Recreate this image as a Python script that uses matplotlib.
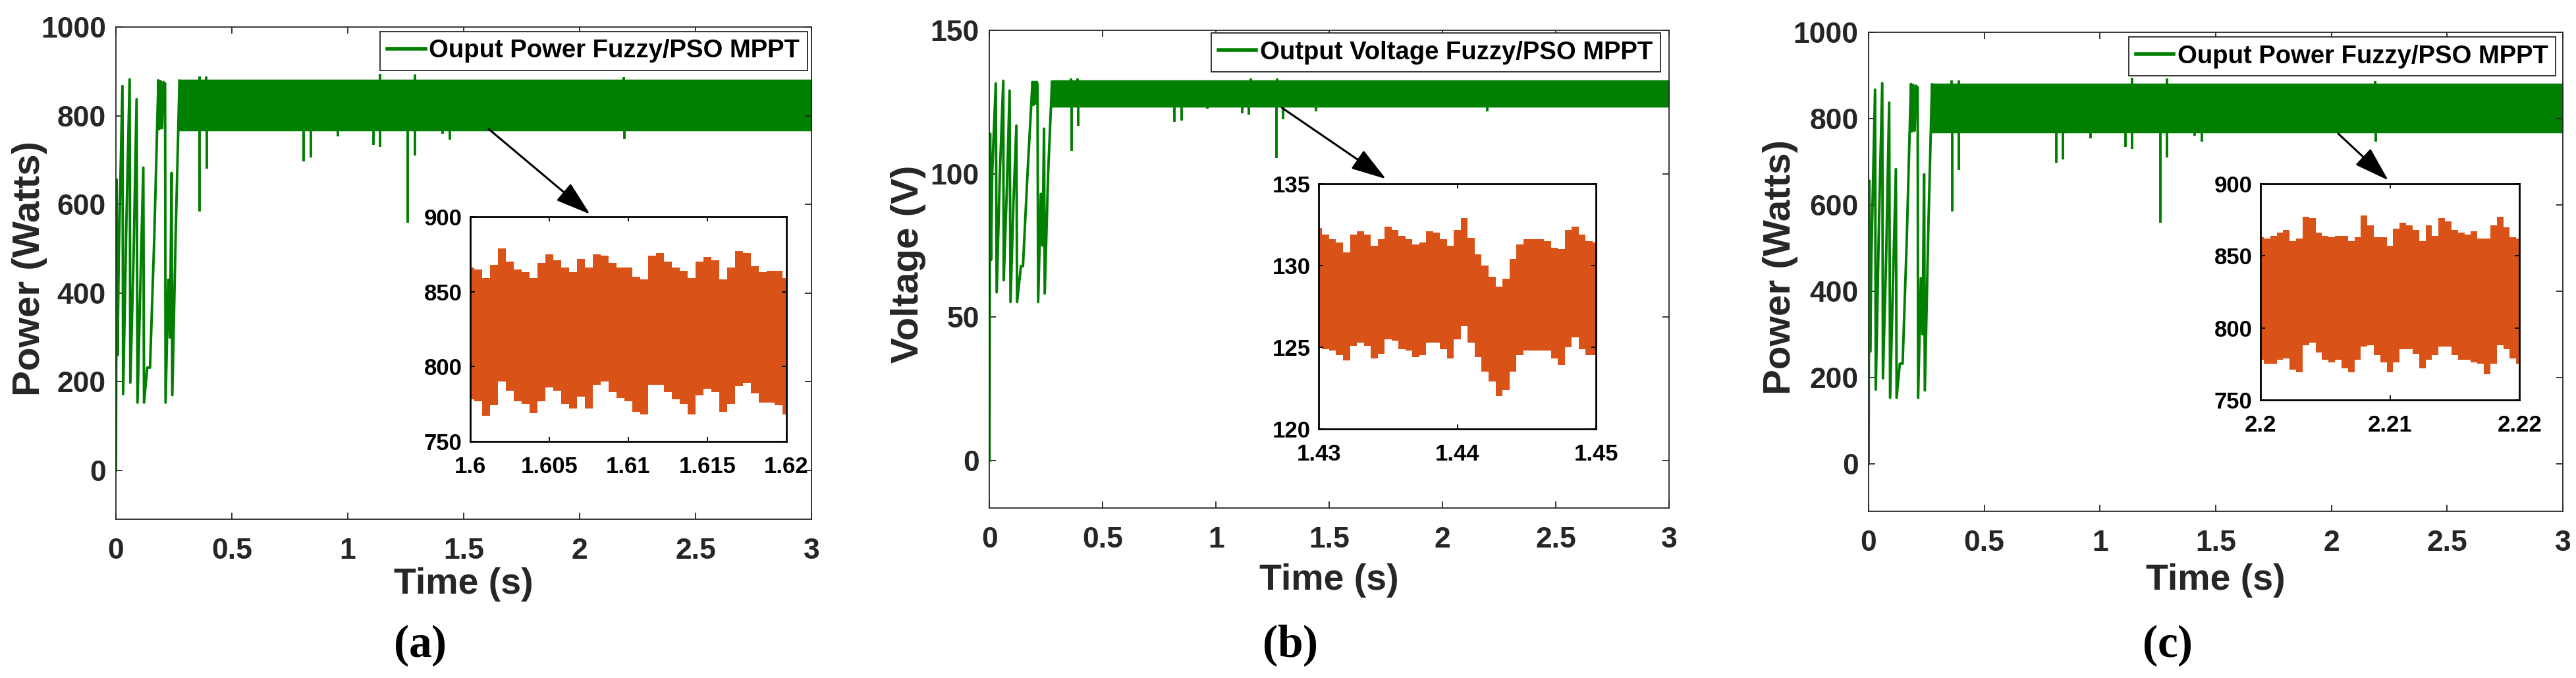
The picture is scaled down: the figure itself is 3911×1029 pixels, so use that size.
import numpy as np
import matplotlib
matplotlib.use('Agg')
import matplotlib.pyplot as plt
from matplotlib.ticker import FuncFormatter

plt.rcParams['font.family'] = ['Liberation Sans', 'DejaVu Sans']
plt.rcParams['font.weight'] = 'bold'
plt.rcParams['mathtext.fontset'] = 'custom'
plt.rcParams['mathtext.rm'] = 'Liberation Serif'
plt.rcParams['mathtext.bf'] = 'Liberation Serif:bold'

GREEN = '#007f00'
ORANGE = '#d95319'
DARK = '#262626'

# ---- main traces (a) and (c): output power, same simulation ----
p_trans_t = [0.000, 0.003, 0.007, 0.012, 0.028, 0.031, 0.045, 0.059, 0.062, 0.076,
             0.089, 0.093, 0.106, 0.118, 0.121, 0.135, 0.147, 0.165, 0.183, 0.187,
             0.193, 0.199, 0.205, 0.212, 0.214, 0.226, 0.233, 0.240, 0.243, 0.258, 0.274]
p_trans_v = [0, 656, 260, 480, 867, 172, 560, 882, 198, 480,
             837, 153, 430, 683, 153, 232, 232, 520, 880, 770,
             878, 772, 876, 872, 153, 430, 300, 671, 170, 540, 879]
p_band_t = [0.274, 3.0]
p_band_hi = [879, 879]
p_band_lo = [769, 769]
p_dip_t = [0.362, 0.391, 0.811, 0.840, 0.958, 1.110, 1.139, 1.260, 1.289, 1.410, 1.440, 2.192]
p_dip_v = [584, 681, 697, 706, 754, 734, 729, 558, 710, 760, 746, 747]
p_spike_t = [0.360, 0.390, 1.140, 1.290, 2.190]
p_spike_v = [888, 889, 894, 893, 887]

# ---- main trace (b): output voltage ----
v_trans_t = [0.000, 0.003, 0.007, 0.012, 0.028, 0.032, 0.046, 0.061, 0.063, 0.077,
             0.089, 0.093, 0.106, 0.119, 0.122, 0.139, 0.148, 0.168, 0.190, 0.194,
             0.199, 0.204, 0.209, 0.212, 0.215, 0.227, 0.234, 0.241, 0.244, 0.259, 0.276]
v_trans_v = [0, 114, 70, 100, 131.5, 58.7, 100, 132.4, 62.9, 95,
             129.0, 55.3, 90, 116.8, 55.3, 67.8, 67.8, 100, 132, 124,
             132, 124.5, 132, 131, 55.3, 93, 75, 115.7, 58.3, 100, 132]
v_band_t = [0.276, 3.0]
v_band_hi = [132.3, 132.3]
v_band_lo = [123.7, 123.7]
v_dip_t = [0.363, 0.393, 0.817, 0.847, 0.962, 1.117, 1.146, 1.267, 1.296, 1.442, 2.198]
v_dip_v = [107.9, 116.6, 118.0, 118.6, 122.7, 121.0, 120.6, 105.4, 119.1, 121.7, 121.7]
v_spike_t = [0.360, 0.390, 1.154, 1.270]
v_spike_v = [133.3, 133.2, 133.3, 133.2]

# ---- zoomed insets: envelope of the ripple, read every 0.5 ms ----
ins_a_hi = [866, 865, 859, 868, 879, 870, 865, 863, 859, 869, 875, 871, 866, 863,
            872, 866, 875, 874, 869, 866, 866, 860, 858, 874, 876, 870, 866, 864,
            859, 870, 873, 871, 858, 866, 877, 876, 867, 863, 864, 864, 859]
ins_a_lo = [778, 777, 767, 774, 790, 784, 777, 775, 769, 777, 786, 784, 775, 772,
            780, 772, 788, 790, 783, 779, 777, 770, 768, 788, 788, 783, 778, 775,
            768, 781, 785, 783, 770, 775, 787, 789, 782, 776, 776, 774, 768]
ins_b_hi = [132.3, 131.9, 131.6, 131.4, 130.8, 131.9, 132.1, 131.9, 131.2, 131.6,
            132.4, 132.2, 131.8, 131.6, 131.3, 131.4, 132.1, 132.0, 131.6, 131.2,
            132.2, 132.9, 131.7, 130.7, 130.0, 129.3, 128.7, 129.2, 130.4, 131.3,
            131.6, 131.6, 131.6, 131.5, 131.1, 131.0, 132.2, 132.4, 131.9, 131.5, 131.4]
ins_b_lo = [125.0, 124.9, 124.8, 124.5, 124.2, 125.1, 125.3, 125.1, 124.3, 124.6,
            125.5, 125.4, 124.9, 124.8, 124.4, 124.5, 125.3, 125.3, 124.9, 124.3,
            125.5, 126.3, 125.3, 124.4, 123.5, 122.9, 122.0, 122.4, 123.5, 124.5,
            124.8, 124.8, 124.8, 124.8, 124.3, 123.9, 125.0, 125.6, 124.9, 124.5, 124.5]
ins_c_hi = [863, 862, 864, 866, 868, 860, 862, 877, 876, 866, 864, 863, 864, 864,
            860, 863, 878, 871, 863, 863, 857, 869, 873, 871, 868, 860, 871, 864,
            876, 874, 868, 866, 865, 867, 862, 862, 871, 877, 870, 863, 862]
ins_c_lo = [778, 775, 775, 778, 779, 771, 769, 788, 790, 783, 778, 776, 778, 772,
            769, 778, 787, 788, 781, 776, 769, 776, 785, 785, 782, 772, 778, 781,
            787, 787, 781, 778, 778, 776, 775, 768, 775, 788, 785, 779, 775]

fmt = FuncFormatter(lambda v, _: f'{v:g}')


def style_main(ax, ylim, yticks):
    ax.set_xlim(0, 3)
    ax.set_ylim(*ylim)
    ax.set_xticks(np.arange(0, 3.01, 0.5))
    ax.set_yticks(yticks)
    ax.xaxis.set_major_formatter(fmt)
    ax.yaxis.set_major_formatter(fmt)
    for s in ax.spines.values():
        s.set_linewidth(1.3)
        s.set_color(DARK)
    ax.tick_params(direction='in', top=True, right=True, length=7, width=1.3,
                   colors=DARK, labelsize=32)
    ax.tick_params(axis='x', pad=20)
    ax.tick_params(axis='y', pad=11)


def draw_main(ax, tt, tv, bt, bhi, blo, dt, dv, st, sv):
    ax.fill_between(bt, blo, bhi, color=GREEN, lw=2.5, edgecolor=GREEN)
    ax.plot(tt, tv, color=GREEN, lw=2.8)
    ax.vlines(dt, dv, blo[0], color=GREEN, lw=2.8)
    ax.vlines(st, bhi[0], sv, color=GREEN, lw=2.8)


def draw_inset(fig, rect, t0, t1, hi, lo, ylim, xticks, yticks):
    ins = fig.add_axes(rect)
    t = np.linspace(t0, t1, len(hi))
    ins.fill_between(t, lo, hi, color=ORANGE, lw=0, step='mid')
    ins.set_xlim(t0, t1)
    ins.set_ylim(*ylim)
    ins.set_xticks(xticks)
    ins.set_yticks(yticks)
    ins.xaxis.set_major_formatter(fmt)
    ins.yaxis.set_major_formatter(fmt)
    for s in ins.spines.values():
        s.set_linewidth(2)
        s.set_color('black')
    ins.tick_params(direction='in', top=True, right=True, length=5, width=1.3,
                    colors='black', labelsize=25)
    ins.tick_params(axis='x', pad=16)
    ins.tick_params(axis='y', pad=9)
    return ins


fig = plt.figure(figsize=(39.12, 10.29), dpi=100)

axes_rects = [[0.0450, 0.2342, 0.2699, 0.7259],
              [0.3840, 0.2507, 0.2638, 0.7046],
              [0.7252, 0.2459, 0.2694, 0.7065]]
inset_rects = [[0.1825, 0.3489, 0.1227, 0.3314],
               [0.5118, 0.3673, 0.1076, 0.3615],
               [0.8773, 0.4101, 0.1005, 0.3188]]

legend_text = ['Ouput Power Fuzzy/PSO MPPT', 'Output Voltage Fuzzy/PSO MPPT',
               'Ouput Power Fuzzy/PSO MPPT']
ylabels = ['Power (Watts)', 'Voltage (V)', 'Power (Watts)']
legend_anchor = [(0.994, 0.991), (0.987, 0.994), (0.990, 0.990)]
xlabel_y = [-0.1325, -0.152, -0.144]
ylabel_x = [-0.124, -0.119, -0.127]
arrows = [((1.608, 770), (2.045, 578)),
          ((1.291, 123.0), (1.750, 98.2)),
          ((2.030, 765), (2.246, 657))]
captions = ['a', 'b', 'c']
caption_x = [0.1628, 0.5005, 0.8410]

for i in range(3):
    ax = fig.add_axes(axes_rects[i])
    if i == 1:
        draw_main(ax, v_trans_t, v_trans_v, v_band_t, v_band_hi, v_band_lo,
                  v_dip_t, v_dip_v, v_spike_t, v_spike_v)
        style_main(ax, (-16.5, 150), [0, 50, 100, 150])
    else:
        draw_main(ax, p_trans_t, p_trans_v, p_band_t, p_band_hi, p_band_lo,
                  p_dip_t, p_dip_v, p_spike_t, p_spike_v)
        style_main(ax, (-110, 1000), [0, 200, 400, 600, 800, 1000])

    ax.plot([], [], color=GREEN, lw=4, label=legend_text[i])
    leg = ax.legend(loc='upper right', bbox_to_anchor=legend_anchor[i], borderaxespad=0,
                    fontsize=27.5, fancybox=False, framealpha=1, edgecolor=DARK,
                    handlelength=1.5, handletextpad=0.15, borderpad=0.3)
    leg.get_frame().set_linewidth(1.3)
    for txt in leg.get_texts():
        txt.set_fontweight('bold')

    ax.set_xlabel('Time (s)', fontsize=40, fontweight='bold', color=DARK, va='center')
    ax.xaxis.set_label_coords(0.5, xlabel_y[i])
    ax.set_ylabel(ylabels[i], fontsize=42, fontweight='bold', color=DARK, va='center')
    ax.yaxis.set_label_coords(ylabel_x[i], 0.51)

    (x0, y0), (x1, y1) = arrows[i]
    ax.annotate('', xy=(x1, y1), xytext=(x0, y0), annotation_clip=False,
                arrowprops=dict(arrowstyle='-|>,head_length=1.1,head_width=0.35',
                                color='black', lw=2.2, mutation_scale=30,
                                shrinkA=0, shrinkB=0))

    fig.text(caption_x[i], 0.048, r'$(\mathbf{' + captions[i] + r'})$', fontsize=50,
             ha='center', va='center', color='black')

draw_inset(fig, inset_rects[0], 1.6, 1.62, ins_a_hi, ins_a_lo, (750, 900),
           [1.6, 1.605, 1.61, 1.615, 1.62], [750, 800, 850, 900])
draw_inset(fig, inset_rects[1], 1.43, 1.45, ins_b_hi, ins_b_lo, (120, 135),
           [1.43, 1.44, 1.45], [120, 125, 130, 135])
draw_inset(fig, inset_rects[2], 2.2, 2.22, ins_c_hi, ins_c_lo, (750, 900),
           [2.2, 2.21, 2.22], [750, 800, 850, 900])

fig.savefig('out.png', dpi=100, facecolor='white')
